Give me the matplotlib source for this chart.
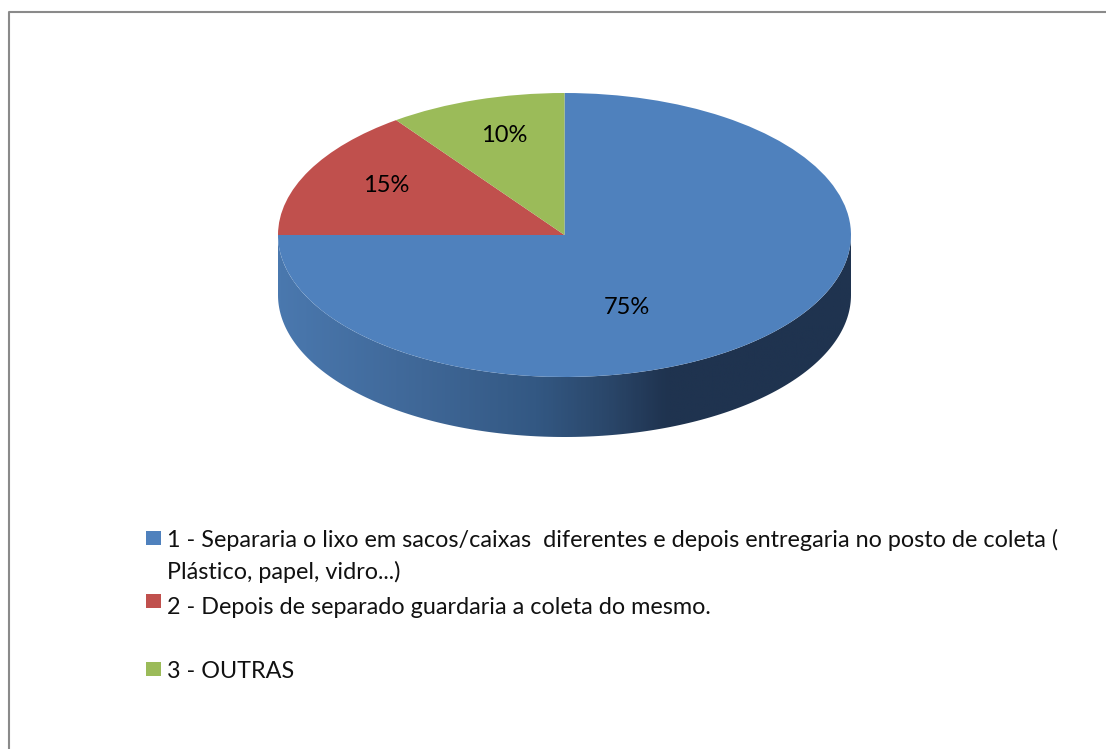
import numpy as np
import matplotlib
matplotlib.use('Agg')
import matplotlib.pyplot as plt
from matplotlib.colors import LinearSegmentedColormap
from matplotlib.patches import Polygon, Rectangle

# values
categories = ['1 - Separaria o lixo em sacos/caixas  diferentes e depois entregaria no posto de coleta (\nPlástico, papel, vidro...)',
              '2 - Depois de separado guardaria a coleta do mesmo.',
              '3 - OUTRAS']
values = [75, 15, 10]
pie_labels = ['75%', '15%', '10%']
colours = ['#4F81BD', '#C0504D', '#9BBB59']
side_stops = [(0, '#4A78AE'), (0.25, '#3F6797'), (0.45, '#335883'), (0.58, '#2A4669'), (0.68, '#1F334F'), (1, '#1F334F')]

W, H = 1106, 749
plt.rcParams['font.family'] = ['Lato', 'DejaVu Sans']
fig = plt.figure(figsize=(W / 100, H / 100), dpi=100)

# whole figure in pixels, for the frame, labels and the legend
page = fig.add_axes([0, 0, 1, 1])
page.set_xlim(0, W)
page.set_ylim(H, 0)
page.axis('off')
page.set_zorder(2)
page.plot([8.7, 8.7, W], [H, 12, 12], color='#8a8a8a', lw=1.5)

# pie axes cover only the ellipse, so the unit circle gets squashed
cx, cy, rx, ry, depth = 564.5, 235, 286.5, 142, 60
pie_ax = fig.add_axes([(cx - rx) / W, 1 - (cy + ry + depth) / H,
                       2 * rx / W, (2 * ry + depth) / H])
pie_ax.set_xlim(-1, 1)
pie_ax.set_ylim(-1 - depth / ry, 1)

# side wall with the dark gradient
t = np.linspace(np.pi, 2 * np.pi, 200)
top_x, top_y = np.cos(t), np.sin(t)
wall = np.concatenate([np.column_stack([top_x, top_y]),
                       np.column_stack([top_x[::-1], top_y[::-1] - depth / ry])])
cmap = LinearSegmentedColormap.from_list('side', side_stops)
img = pie_ax.imshow(np.linspace(0, 1, 300)[None, :], cmap=cmap, aspect='auto',
                    extent=[-1, 1, -1 - depth / ry, 0.1], zorder=1)
img.set_clip_path(Polygon(wall, transform=pie_ax.transData))

wedges, _ = pie_ax.pie(values, colors=colours, startangle=90, counterclock=False,
                       center=(0, 0), radius=1, frame=True)
for w in wedges:
    w.set_zorder(2)
pie_ax.set_aspect('auto')
pie_ax.set_xlim(-1, 1)
pie_ax.set_ylim(-1 - depth / ry, 1)
pie_ax.axis('off')

# percentage labels
label_xy = [(627, 308), (386, 186), (504, 136)]
for lab, (lx, ly) in zip(pie_labels, label_xy):
    page.text(lx, ly, lab, ha='center', va='center', fontsize=17, color='black')

# legend
legend_y = [538, 601, 669]
text_y = [556, 607, 671]
for c, lab, ky, ty in zip(colours, categories, legend_y, text_y):
    page.add_patch(Rectangle((146, ky - 7), 15, 14, color=c, lw=0))
    page.text(167, ty, lab, fontsize=16.8, color='#111111', va='center', linespacing=1.5)

fig.savefig('out.png', dpi=100)
